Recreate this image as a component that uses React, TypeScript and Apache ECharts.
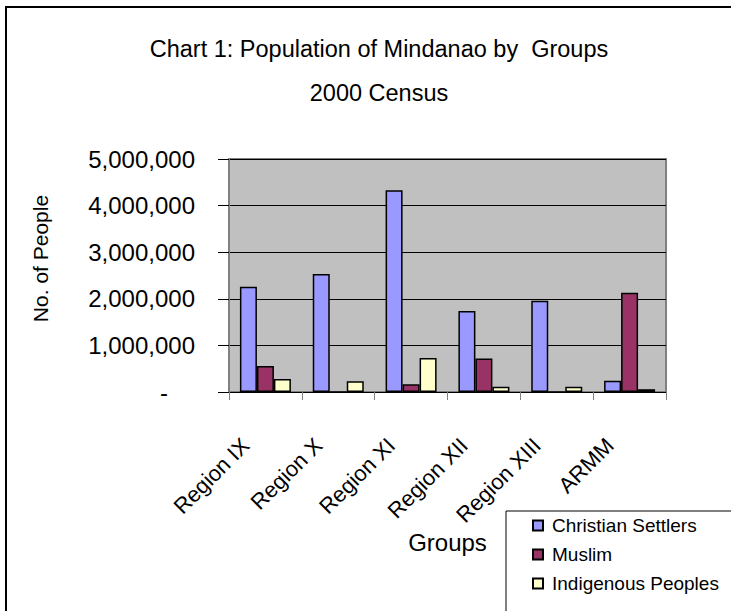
import React, { useEffect, useRef } from "react";
import * as echarts from "echarts";

const categories = ["Region IX", "Region X", "Region XI", "Region XII", "Region XIII", "ARMM"];
const seriesNames = ["Christian Settlers", "Muslim", "Indigenous Peoples"];
const christian = [2260000, 2530000, 4330000, 1740000, 1960000, 240000];
const muslim = [560000, 0, 165000, 720000, 0, 2130000];
const indigenous = [280000, 230000, 730000, 110000, 110000, 60000];
const seriesColors = ["#9999FF", "#993366", "#FFFFCC"];
const yMax = 5000000;
const yStep = 1000000;

const FONT = "'Liberation Sans', Arial, sans-serif";

export default function App() {
  const ref = useRef<HTMLDivElement>(null);
  useEffect(() => {
    if (!ref.current) return;
    const chart = echarts.init(ref.current, undefined, { renderer: "svg" });
    const values = [christian, muslim, indigenous];
    chart.setOption({
      animation: false,
      backgroundColor: "#ffffff",
      title: {
        text: "Chart 1: Population of Mindanao by  Groups\n2000 Census",
        left: 374,
        top: 22,
        textAlign: "center",
        textStyle: {
          fontFamily: FONT,
          fontSize: 23.5,
          fontWeight: "normal",
          color: "#000",
          lineHeight: 44,
        },
      },
      graphic: [
        {
          type: "rect",
          z: -10,
          shape: { x: 6, y: 7, width: 780, height: 700 },
          style: { fill: "none", stroke: "#000", lineWidth: 2 },
        },
        {
          type: "rect",
          z: 5,
          shape: { x: 506, y: 511, width: 300, height: 200 },
          style: { fill: "#fff", stroke: "#000", lineWidth: 1 },
        },
      ],
      legend: {
        orient: "vertical",
        left: 532,
        top: 516,
        padding: 0,
        z: 10,
        itemWidth: 10,
        itemHeight: 10,
        itemGap: 10,
        icon: "rect",
        data: seriesNames,
        textStyle: { fontFamily: FONT, fontSize: 19, color: "#000", padding: [0, 0, 0, 4] },
      },
      grid: {
        left: 229,
        top: 159,
        width: 437,
        height: 233,
        show: true,
        backgroundColor: "#C0C0C0",
        borderColor: "#808080",
        borderWidth: 2,
      },
      xAxis: {
        type: "category",
        data: categories,
        name: "Groups",
        nameLocation: "middle",
        nameGap: 138,
        nameTextStyle: { fontFamily: FONT, fontSize: 24, color: "#000", verticalAlign: "top" },
        axisLine: { show: true, lineStyle: { color: "#000", width: 1 } },
        axisTick: { show: true, length: 8, lineStyle: { color: "#808080", width: 1 } },
        axisLabel: {
          rotate: 45,
          margin: 30,
          padding: [0, 28, 0, 0],
          fontFamily: FONT,
          fontSize: 22,
          color: "#000",
        },
      },
      yAxis: {
        type: "value",
        min: 0,
        max: yMax,
        interval: yStep,
        name: "No. of People",
        nameLocation: "middle",
        nameRotate: 90,
        nameGap: 178,
        nameTextStyle: { fontFamily: FONT, fontSize: 21, color: "#000", padding: [0, 0, 0, 34] },
        axisLine: { show: true, lineStyle: { color: "#808080", width: 2 } },
        axisTick: { show: true, length: 11, lineStyle: { color: "#000", width: 1 } },
        splitLine: { show: true, lineStyle: { color: "#000", width: 1 } },
        axisLabel: {
          margin: 34,
          fontFamily: FONT,
          fontSize: 24,
          color: "#000",
          formatter: (v: number) => (v === 0 ? "{z|-}" : v.toLocaleString("en-US")),
          rich: { z: { fontFamily: FONT, fontSize: 24, color: "#000", padding: [0, 27, 0, 0] } },
        },
      },
      series: seriesNames.map((name, i) => ({
        name,
        type: "bar",
        data: values[i],
        barWidth: 17,
        barGap: "0%",
        itemStyle: { color: seriesColors[i], borderColor: "#000", borderWidth: 1.5 },
      })),
    });
    return () => chart.dispose();
  }, []);
  return (
    <div
      ref={ref}
      style={{ position: "fixed", left: 0, top: 0, width: 731, height: 611 }}
    />
  );
}
